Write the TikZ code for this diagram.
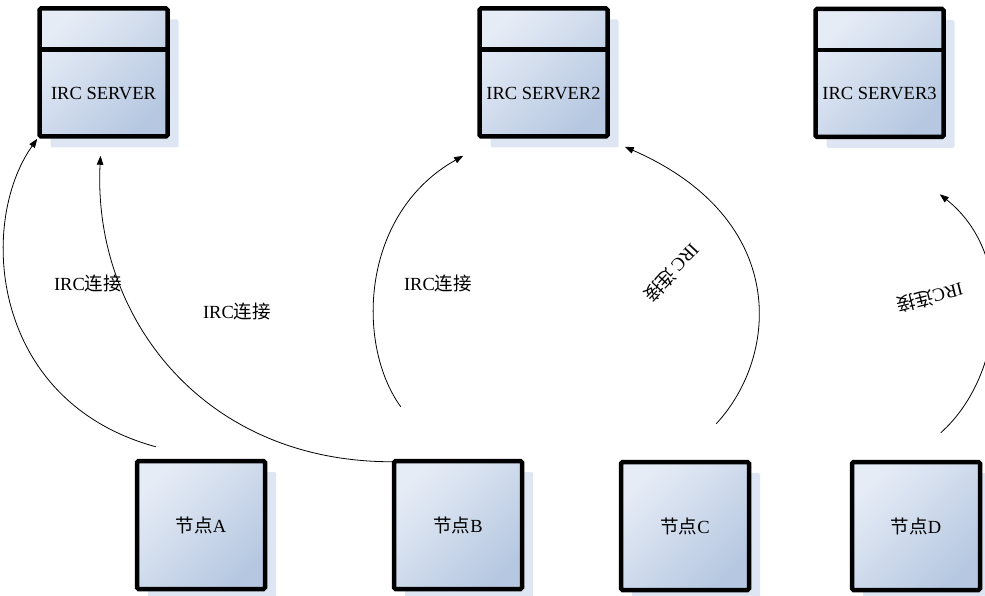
\documentclass[tikz,border=0pt]{standalone}
\usepackage{fontspec}
\setmainfont{Liberation Serif}
\newfontfamily\cjk{Noto Sans CJK SC}
\usetikzlibrary{arrows.meta,shadows}

\definecolor{boxlight}{HTML}{E6ECF6}
\definecolor{boxdark}{HTML}{B6C8E1}
\definecolor{shadowblue}{HTML}{DEE6F4}

\tikzset{
  box/.style={rectangle, draw=black, line width=4.5pt, rounded corners=1.5pt,
    minimum width=128pt, minimum height=128pt, inner sep=0pt,
    top color=boxlight, bottom color=boxdark, shading angle=45,
    general shadow={fill=shadowblue, shadow xshift=11pt, shadow yshift=-11pt},
    font=\fontsize{18.5}{21}\selectfont},
  server/.style={box, path picture={
      \shade[top color=boxlight, bottom color=boxdark, shading angle=45]
        (path picture bounding box.north west)
        rectangle ([yshift=-41pt]path picture bounding box.north east);
      \draw[line width=4.5pt]
        ([yshift=-41pt]path picture bounding box.north west)
        -- ([yshift=-41pt]path picture bounding box.north east);}},
  srvtext/.style={yshift=-21pt, font=\fontsize{18.5}{21}\selectfont},
  conn/.style={-{Triangle[length=9pt,width=6.5pt]}, line width=0.8pt},
  lbl/.style={font=\fontsize{18.5}{21}\selectfont, inner sep=1pt}
}

\begin{document}
\begin{tikzpicture}[x=1pt,y=-1pt]
  \useasboundingbox (0,0) rectangle (985,596);

  % servers
  \node[server,label={[srvtext]center:IRC SERVER}] (s1) at (103.5,72.5) {};
  \node[server,label={[srvtext]center:IRC SERVER2}] (s2) at (543.5,72.5) {};
  \node[server,label={[srvtext]center:IRC SERVER3}] (s3) at (879.5,73) {};

  % nodes
  \node[box] (na) at (201,525) {{\cjk 节点}A};
  \node[box] (nb) at (458,525) {{\cjk 节点}B};
  \node[box] (nc) at (685,526) {{\cjk 节点}C};
  \node[box] (nd) at (916,526) {{\cjk 节点}D};

  % connections
  \draw[conn] ([shift={(21,-12)}]na.north west)
    .. controls +(-165,-45) and +(-60,85) .. (s1.south west);
  \draw[conn] ([shift={(0,3)}]nb.north west)
    .. controls +(-190,0) and +(-8,160) .. ([shift={(-3,17)}]s1.south);
  \draw[conn] ([shift={(9,-52)}]nb.north west)
    .. controls +(-45,-62) and +(-103,58) .. ([shift={(-14,17)}]s2.south west);
  \draw[conn] ([shift={(-35,-36)}]nc.north east)
    .. controls +(63,-68) and +(165,72) .. ([shift={(15,8)}]s2.south east);
  \draw[conn] ([shift={(91,-27)}]nd.north west)
    .. controls +(62,-55) and +(78,62) .. ([shift={(-6,55)}]s3.south east);

  % labels
  \node[lbl] (l1) at (88,283) {IRC{\cjk 连接}};
  \node[lbl] (l2) at (237,311) {IRC{\cjk 连接}};
  \node[lbl] (l3) at (438,283) {IRC{\cjk 连接}};
  \node[lbl,rotate=227] (l4) at (672,273) {IRC\,{\cjk 连接}};
  \node[lbl,rotate=194] (l5) at (930,298) {IRC{\cjk 连接}};
\end{tikzpicture}
\end{document}
